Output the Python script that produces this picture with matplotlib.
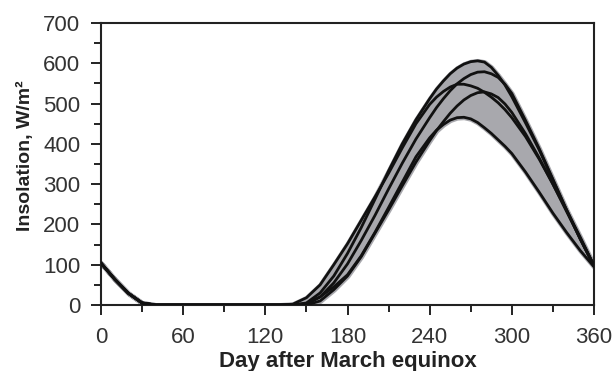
import matplotlib
matplotlib.use("Agg")
import matplotlib.pyplot as plt
import numpy as np
from matplotlib.ticker import MultipleLocator

days = (list(range(0, 240, 10)) + list(range(240, 300, 5)) + list(range(300, 361, 10)))

# Insolation (W/m^2), five cases
zeros = [0] * 10  # days 40..130
head = [104, 64, 29, 5]  # days 0..30

# values for days 140..230 (step 10), 240..295 (step 5), 300..360 (step 10)
curve_a = head + zeros + [0, 5, 30, 72, 128, 192, 262, 333, 400, 460,
                          512, 536, 556, 574, 588, 598, 604, 606, 603, 590, 570, 546,
                          517, 452, 385, 310, 235, 163, 97]
curve_b = head + zeros + [0, 2, 20, 55, 102, 160, 222, 288, 352, 412,
                          465, 490, 512, 532, 549, 562, 572, 578, 579, 574, 565, 548,
                          525, 458, 388, 312, 236, 164, 97]
curve_c = head + zeros + [2, 18, 50, 100, 152, 210, 268, 327, 390, 450,
                          498, 516, 530, 541, 548, 548, 544, 538, 528, 516, 502, 485,
                          465, 418, 362, 300, 235, 168, 98]
curve_d = head + zeros + [0, 0, 10, 38, 72, 120, 178, 236, 296, 355,
                          408, 433, 455, 476, 494, 509, 520, 527, 529, 524, 515, 499,
                          478, 425, 365, 300, 232, 165, 97]
curve_e = head + zeros + [0, 4, 20, 45, 75, 122, 180, 242, 305, 368,
                          415, 434, 448, 459, 465, 466, 462, 453, 440, 426, 410, 394,
                          376, 330, 280, 228, 180, 135, 95]

curves = [curve_a, curve_b, curve_c, curve_d, curve_e]

x_ticks = [0, 60, 120, 180, 240, 300, 360]
y_ticks = [0, 100, 200, 300, 400, 500, 600, 700]

fig = plt.figure(figsize=(6.15, 3.71), dpi=100)
ax = fig.add_axes([101 / 615, 1 - 305 / 371, (594 - 101) / 615, (305 - 23) / 371])

arr = np.array(curves, dtype=float)
lo = arr.min(axis=0)
hi = arr.max(axis=0)
ax.fill_between(days, lo, hi, facecolor="#a8a8ad", edgecolor="#a8a8ad", linewidth=3.5, zorder=1)

for c in curves:
    ax.plot(days, c, color="#111111", linewidth=2.0, solid_capstyle="round",
            solid_joinstyle="round", zorder=3)

ax.set_xlim(0, 360)
ax.set_ylim(0, 700)
ax.set_xticks(x_ticks)
ax.set_yticks(y_ticks)
ax.xaxis.set_minor_locator(MultipleLocator(30))
ax.yaxis.set_minor_locator(MultipleLocator(50))

font = "Liberation Sans"
ax.tick_params(which="major", direction="out", length=7, width=1.4, color="#222222",
               labelsize=16, labelcolor="#333333")
ax.tick_params(axis="y", which="major", pad=8)
ax.tick_params(axis="x", which="major", pad=9)
ax.tick_params(which="minor", direction="out", length=5, width=1.4, color="#222222")
for lab in ax.get_xticklabels() + ax.get_yticklabels():
    lab.set_fontfamily(font)
for s in ax.spines.values():
    s.set_linewidth(1.5)
    s.set_color("#222222")

ax.set_xlabel("Day after March equinox", fontsize=16, fontweight="bold",
              family=font, color="#222222")
ax.set_ylabel("Insolation, W/m²", fontsize=14, fontweight="bold",
              family=font, color="#222222")
ax.xaxis.set_label_coords(0.5, -0.162)
ax.yaxis.set_label_coords(-0.136, 0.53)

fig.savefig("out.png", dpi=100)
